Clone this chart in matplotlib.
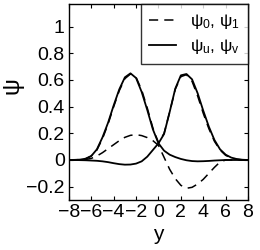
import matplotlib
matplotlib.use('Agg')
import matplotlib.pyplot as plt
import numpy as np

plt.rcParams['font.family'] = ['Liberation Sans', 'DejaVu Sans']
plt.rcParams['mathtext.fontset'] = 'custom'
plt.rcParams['mathtext.rm'] = 'Liberation Sans'
plt.rcParams['mathtext.it'] = 'Liberation Sans'
plt.rcParams['axes.unicode_minus'] = True

y = np.arange(-8, 8.01, 0.5)

psi_u = [0, 0.001, 0.003, 0.01, 0.03, 0.08, 0.17, 0.28, 0.41, 0.53, 0.62, 0.65, 0.615,
         0.51, 0.375, 0.23, 0.125, 0.07, 0.04, 0.022, 0.008, -0.002, -0.008, -0.01,
         -0.009, -0.007, -0.004, -0.002, 0, 0, 0, 0, 0]
psi_v = [0, 0, -0.001, -0.002, -0.004, -0.006, -0.01, -0.016, -0.024, -0.031, -0.035,
         -0.034, -0.027, -0.01, 0.025, 0.075, 0.125, 0.195, 0.36, 0.535, 0.635, 0.645,
         0.605, 0.5, 0.37, 0.25, 0.15, 0.08, 0.04, 0.018, 0.007, 0.002, 0]
psi_0 = [0, 0.001, 0.003, 0.01, 0.03, 0.075, 0.16, 0.27, 0.40, 0.52, 0.61, 0.645, 0.62,
         0.525, 0.39, 0.24, 0.13, 0.2, 0.36, 0.53, 0.625, 0.64, 0.59, 0.48, 0.35, 0.235,
         0.14, 0.075, 0.035, 0.015, 0.005, 0.001, 0]
psi_1 = [0, 0, 0.001, 0.004, 0.012, 0.03, 0.055, 0.085, 0.115, 0.145, 0.17, 0.185, 0.19,
         0.183, 0.168, 0.145, 0.11, 0.02, -0.07, -0.14, -0.19, -0.212, -0.205, -0.18,
         -0.145, -0.1, -0.055, -0.015, 0, 0, 0, 0, 0]

fig = plt.figure(figsize=(2.6, 2.5), dpi=100)
ax = fig.add_axes([0.265, 0.2, 0.689, 0.784])

dash = (0, (6, 4))
ax.plot(y, psi_0, color='black', lw=1.1, linestyle=dash, label=r'$\psi_0$, $\psi_1$')
ax.plot(y, psi_1, color='black', lw=1.1, linestyle=dash)
ax.plot(y, psi_u, color='black', lw=1.3, label=r'$\psi_u$, $\psi_v$')
ax.plot(y, psi_v, color='black', lw=1.3)

ax.set_xlim(-8, 8)
ax.set_ylim(-0.3, 1.17)
ax.set_xticks(np.arange(-8, 9, 2))
ax.set_yticks([-0.2, 0, 0.2, 0.4, 0.6, 0.8, 1])
ax.set_yticklabels(['\u22120.2', '0', '0.2', '0.4', '0.6', '0.8', '1'])
ax.set_xticklabels(['\u22128', '\u22126', '\u22124', '\u22122', '0', '2', '4', '6', '8'])
ax.tick_params(direction='in', length=3, width=0.8, top=True, right=True,
               labelsize=14, pad=3)
for s in ax.spines.values():
    s.set_linewidth(1.0)

ax.set_xlabel('y', fontsize=15)
ax.xaxis.set_label_coords(0.5, -0.125)
ax.set_ylabel(r'$\psi$', fontsize=17)
ax.yaxis.set_label_coords(-0.235, 0.575)

leg = ax.legend(loc='upper right', fontsize=12.5, frameon=True, fancybox=False,
                edgecolor='black', borderaxespad=0, handlelength=1.55,
                handletextpad=0.85, borderpad=0.45, labelspacing=0.35)
leg.get_frame().set_linewidth(1.0)

fig.savefig('out.png', dpi=100)
